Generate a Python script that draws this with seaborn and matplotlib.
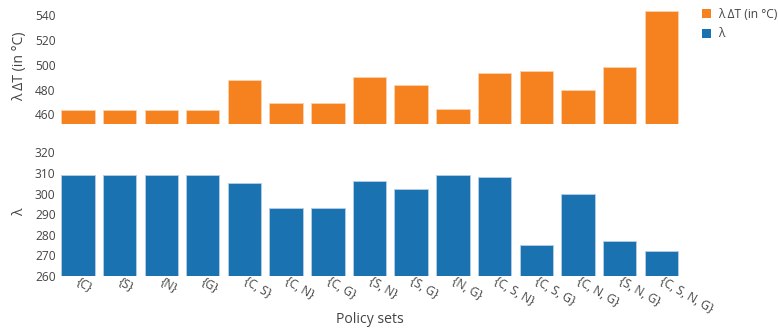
import matplotlib
matplotlib.use("Agg")
import matplotlib.pyplot as plt
from matplotlib.patches import Patch
import seaborn as sns

# Policy set combinations and the two metrics per set
policy_sets = ["{C}", "{S}", "{N}", "{G}", "{C, S}", "{C, N}", "{C, G}", "{S, N}",
               "{S, G}", "{N, G}", "{C, S, N}", "{C, S, G}", "{C, N, G}", "{S, N, G}",
               "{C, S, N, G}"]
lambda_dt = [463.5, 463.5, 463.5, 463.5, 488, 469, 469, 490, 483.5, 464, 493, 495, 480, 498.5, 543.5]
lambda_vals = [309, 309, 309, 309, 305, 293, 293, 306, 302, 309, 308, 275, 300, 277, 272]

dt_ticks = [460, 480, 500, 520, 540]
lam_ticks = [260, 270, 280, 290, 300, 310, 320]

ORANGE = "#f5811f"
BLUE = "#1a73b0"
TEXT = "#444444"

sns.set_theme(style="white")
plt.rcParams["font.family"] = ["Open Sans", "DejaVu Sans"]
plt.rcParams["text.color"] = TEXT
plt.rcParams["axes.labelcolor"] = TEXT
plt.rcParams["xtick.color"] = TEXT
plt.rcParams["ytick.color"] = TEXT

W, H = 778, 335
fig = plt.figure(figsize=(W / 100, H / 100), dpi=100)

def px_axes(left, top, right, bottom):
    return fig.add_axes([left / W, 1 - bottom / H, (right - left) / W, (bottom - top) / H])

ax_top = px_axes(57, 7.7, 682, 124.3)
ax_bot = px_axes(57, 148.3, 682, 275.7)

sns.barplot(x=policy_sets, y=lambda_dt, color=ORANGE, saturation=1, width=0.8,
            edgecolor="#fbd3b0", linewidth=0.6, ax=ax_top)
sns.barplot(x=policy_sets, y=lambda_vals, color=BLUE, saturation=1, width=0.8,
            edgecolor="#b6cfe6", linewidth=0.6, ax=ax_bot)

tick_pt = 12 * 0.72
title_pt = 14 * 0.72

ax_top.set_ylim(452, 546)
ax_top.set_yticks(dt_ticks)
ax_top.set_xticks([])
ax_top.set_xlim(-0.5, len(policy_sets) - 0.5)
ax_top.set_ylabel("λ ΔT (in °C)", fontsize=title_pt)

ax_bot.set_ylim(260, 322)
ax_bot.set_yticks(lam_ticks)
ax_bot.set_xlim(-0.5, len(policy_sets) - 0.5)
ax_bot.set_ylabel("λ", fontsize=title_pt)
ax_bot.set_xlabel("Policy sets", fontsize=title_pt)
ax_bot.set_xticks(range(len(policy_sets)))
ax_bot.set_xticklabels(policy_sets, rotation=-30, ha="left", va="center",
                       rotation_mode="anchor")

for ax in (ax_top, ax_bot):
    ax.tick_params(axis="y", labelsize=tick_pt, length=0, pad=1)
    ax.tick_params(axis="x", labelsize=tick_pt, length=0, pad=3)
    for s in ax.spines.values():
        s.set_visible(False)
    ax.grid(False)

AX_W = 625
ax_top.yaxis.set_label_coords(-30 / AX_W, 0.5)
ax_bot.yaxis.set_label_coords(-30 / AX_W, 0.5)
ax_bot.xaxis.set_label_coords(0.5, -(312 - 275.7) / 127.4)

handles = [Patch(facecolor=ORANGE, edgecolor="none", label="λ ΔT (in °C)"),
           Patch(facecolor=BLUE, edgecolor="none", label="λ")]
fig.legend(handles=handles, loc="upper left", bbox_to_anchor=(697 / W, 1 - 3 / H),
           frameon=False, fontsize=tick_pt, handlelength=0.75, handleheight=0.75,
           handletextpad=0.6, labelspacing=0.55, borderaxespad=0)

fig.savefig("out.png", dpi=100, facecolor="white")
